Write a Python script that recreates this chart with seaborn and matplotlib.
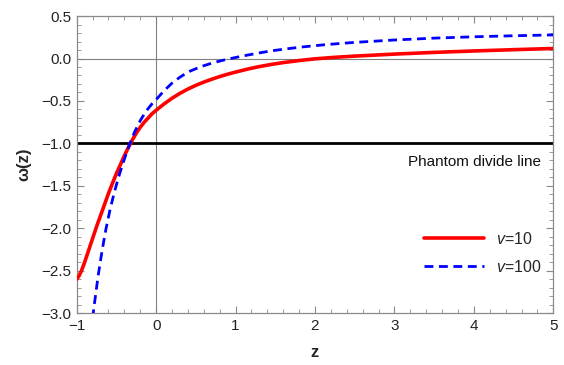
import matplotlib
matplotlib.use("Agg")
import matplotlib.pyplot as plt
from matplotlib.ticker import MultipleLocator
from matplotlib.lines import Line2D
import seaborn as sns
import pandas as pd

# Equation of state w(z) for two values of the model parameter v
z_v10 = [-1.00, -0.97, -0.94, -0.90, -0.85, -0.80, -0.75, -0.70, -0.65, -0.60,
         -0.55, -0.50, -0.45, -0.40, -0.35, -0.30, -0.25, -0.20, -0.15, -0.10,
         -0.05, 0.00, 0.10, 0.20, 0.30, 0.40, 0.50, 0.60, 0.70, 0.80, 0.90,
         1.00, 1.15, 1.30, 1.45, 1.60, 1.80, 2.00, 2.25, 2.50, 3.00, 3.50,
         4.00, 4.50, 5.00]
w_v10 = [-2.60, -2.56, -2.50, -2.40, -2.26, -2.12, -1.98, -1.85, -1.72, -1.59,
         -1.47, -1.355, -1.25, -1.145, -1.05, -0.96, -0.88, -0.81, -0.75, -0.70,
         -0.65, -0.61, -0.535, -0.468, -0.41, -0.36, -0.316, -0.278, -0.244, -0.213, -0.185,
         -0.160, -0.125, -0.095, -0.070, -0.048, -0.024, -0.004, 0.014, 0.028, 0.052, 0.072,
         0.089, 0.104, 0.118]

z_v100 = [-0.80, -0.78, -0.73, -0.68, -0.63, -0.58, -0.53, -0.48, -0.43, -0.38,
          -0.33, -0.27, -0.20, -0.15, -0.10, -0.05, 0.00, 0.10, 0.20, 0.30,
          0.40, 0.50, 0.60, 0.70, 0.80, 0.90, 1.00, 1.15, 1.30, 1.45, 1.65,
          1.85, 2.14, 2.50, 3.00, 3.50, 4.00, 4.50, 5.00]
w_v100 = [-3.06, -2.91, -2.56, -2.26, -2.00, -1.78, -1.59, -1.42, -1.27, -1.13,
          -1.00, -0.863, -0.732, -0.655, -0.589, -0.532, -0.484, -0.38, -0.29, -0.22,
          -0.16, -0.12, -0.085, -0.055, -0.03, -0.008, 0.012, 0.04, 0.066, 0.09, 0.115,
          0.137, 0.164, 0.19, 0.218, 0.24, 0.256, 0.268, 0.278]

phantom_w = -1.0
x_ticks = [-1, 0, 1, 2, 3, 4, 5]
y_ticks = [0.5, 0.0, -0.5, -1.0, -1.5, -2.0, -2.5, -3.0]

df = pd.concat([
    pd.DataFrame({"z": z_v10, "w": w_v10, "model": "v10"}),
    pd.DataFrame({"z": z_v100, "w": w_v100, "model": "v100"}),
])

sns.set_style("ticks")
plt.rcParams["font.family"] = ["Liberation Sans", "DejaVu Sans"]
plt.rcParams["mathtext.fontset"] = "custom"
plt.rcParams["mathtext.it"] = "Liberation Sans:italic"
plt.rcParams["mathtext.rm"] = "Liberation Sans"

fig = plt.figure(figsize=(5.64, 3.65), dpi=100)
ax = fig.add_axes([0.136, 0.142, 0.845, 0.814])

frame_col = "#8a8a8a"
red, blue = "#ff0000", "#0000ff"
dash = (3.2, 2.0)

# coordinate axes through the origin and the phantom divide
ax.axhline(0, color="#808080", lw=0.8, zorder=1)
ax.axvline(0, color="#808080", lw=0.8, zorder=1)
ax.axhline(phantom_w, color="black", lw=2.0, zorder=2)

sns.lineplot(data=df, x="z", y="w", hue="model", style="model",
             palette={"v10": red, "v100": blue},
             dashes={"v10": "", "v100": dash},
             sort=False, estimator=None, ax=ax, legend=False, zorder=3)
for line, lw in zip(ax.lines[-2:], [2.6, 2.0]):
    line.set_linewidth(lw)
    line.set_solid_joinstyle("round")

ax.set_xlim(-1, 5)
ax.set_ylim(-3.0, 0.5)
ax.set_xticks(x_ticks)
ax.set_yticks(y_ticks)
ax.set_xticklabels([f"{t}".replace("-", "\u2212") for t in x_ticks])
ax.set_yticklabels([f"{t:.1f}".replace("-", "\u2212") for t in y_ticks])
ax.xaxis.set_minor_locator(MultipleLocator(0.2))
ax.yaxis.set_minor_locator(MultipleLocator(0.1))
ax.tick_params(which="both", direction="in", top=True, right=True,
               color=frame_col, labelsize=11, labelcolor="#222222", pad=4)
ax.tick_params(which="major", length=5, width=0.8)
ax.tick_params(which="minor", length=2.8, width=0.6)
for s in ax.spines.values():
    s.set_color(frame_col)
    s.set_linewidth(0.9)

ax.set_xlabel("z", fontsize=12, fontweight="bold", labelpad=9)
ax.set_ylabel("\u03c9(z)", fontsize=12, fontweight="bold", labelpad=7)

ax.text(4.85, -1.22, "Phantom divide line", fontsize=11, ha="right",
        va="center", color="#111111")

handles = [Line2D([], [], color=red, lw=2.6),
           Line2D([], [], color=blue, lw=2.0, dashes=dash)]
ax.legend(handles, [r"$v$=10", r"$v$=100"], loc="lower right",
          bbox_to_anchor=(1.006, 0.08), frameon=False, fontsize=11.5,
          handlelength=3.75, handletextpad=0.8, labelspacing=0.75)

fig.savefig("out.png", dpi=100)
